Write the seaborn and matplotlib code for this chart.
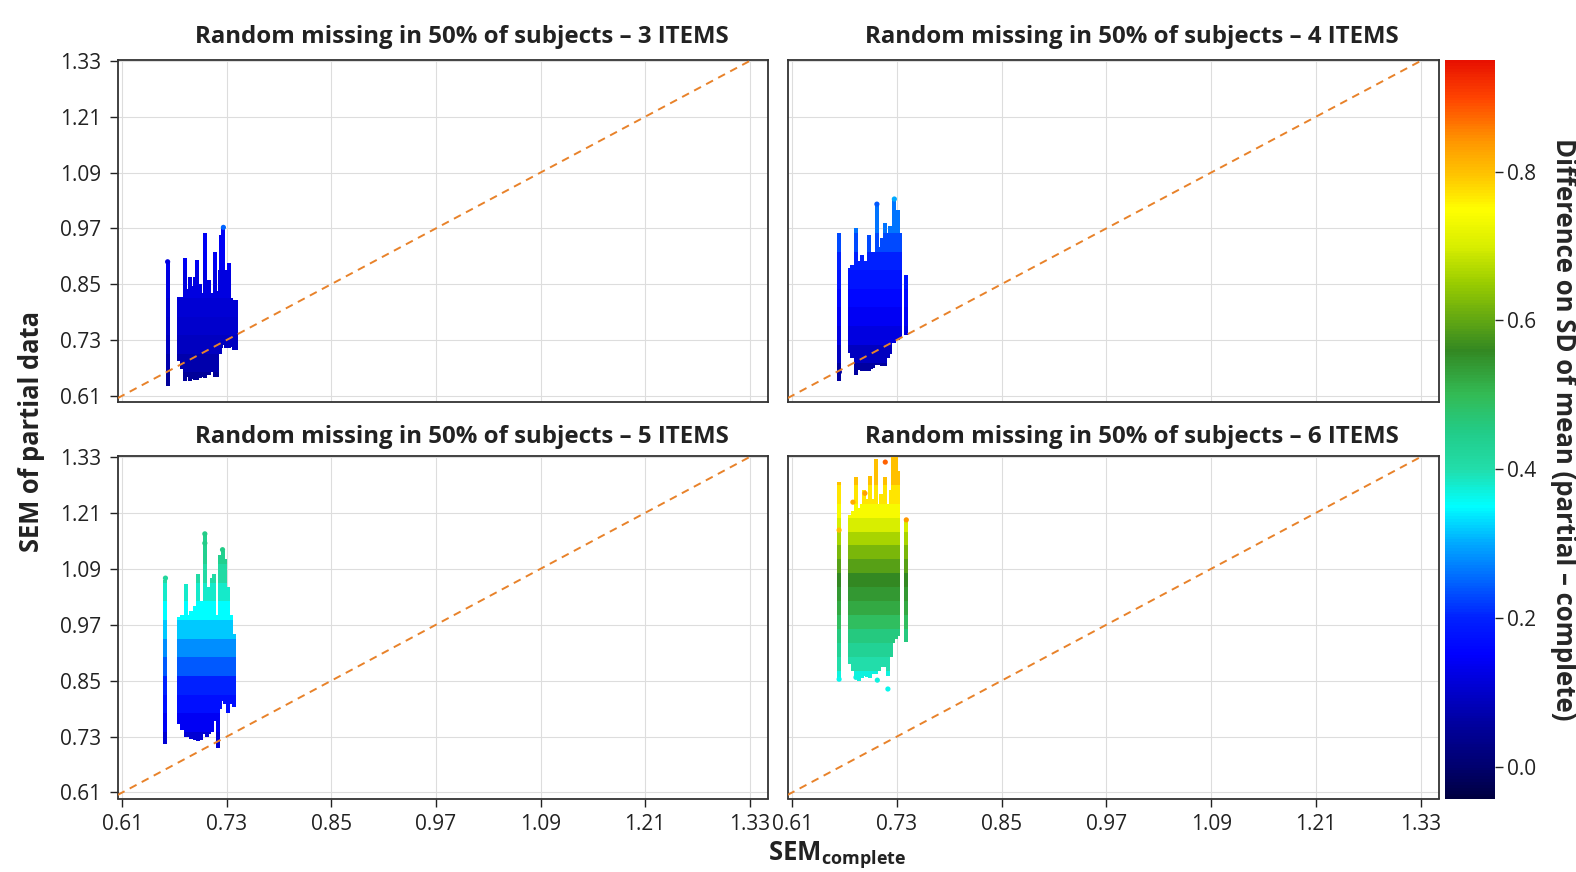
import matplotlib
matplotlib.use("Agg")
import matplotlib.pyplot as plt
import numpy as np
import pandas as pd
import seaborn as sns
from matplotlib.colors import LinearSegmentedColormap, Normalize
from matplotlib.cm import ScalarMappable

# ---- data ----
ticks = [0.61, 0.73, 0.85, 0.97, 1.09, 1.21, 1.33]
titles = ["Random missing in 50% of subjects \u2013 3 ITEMS",
          "Random missing in 50% of subjects \u2013 4 ITEMS",
          "Random missing in 50% of subjects \u2013 5 ITEMS",
          "Random missing in 50% of subjects \u2013 6 ITEMS"]

# 3 items: vertical strips (SEM complete, low / high SEM partial)
i3_x = [0.662, 0.675, 0.678, 0.682, 0.685, 0.688, 0.691, 0.693, 0.696, 0.699, 0.702, 0.705, 0.708,
        0.710, 0.713, 0.716, 0.719, 0.722, 0.723, 0.726, 0.729, 0.732, 0.735, 0.738, 0.741]
i3_lo = [0.630, 0.684, 0.668, 0.641, 0.650, 0.641, 0.645, 0.643, 0.644, 0.648, 0.650, 0.648, 0.655,
         0.655, 0.660, 0.651, 0.651, 0.700, 0.712, 0.719, 0.712, 0.712, 0.715, 0.709, 0.709]
i3_hi = [0.898, 0.823, 0.823, 0.906, 0.840, 0.866, 0.845, 0.866, 0.902, 0.850, 0.830, 0.959, 0.840,
         0.859, 0.830, 0.920, 0.835, 0.880, 0.956, 0.970, 0.880, 0.895, 0.820, 0.816, 0.816]
i3_edges = [0.60, 0.66, 0.70, 0.74, 0.78, 0.82, 0.88, 1.00]
i3_vals = [0.05, 0.07, 0.09, 0.10, 0.11, 0.12, 0.14]
i3_dot_x = [0.726, 0.662]
i3_dot_y = [0.972, 0.898]
i3_dot_c = [0.25, 0.12]

# 4 items
i4_x = [0.664, 0.676, 0.679, 0.683, 0.686, 0.690, 0.693, 0.6975, 0.700, 0.703, 0.707, 0.710, 0.713,
        0.7166, 0.720, 0.7223, 0.727, 0.731, 0.734, 0.7407]
i4_lo = [0.641, 0.702, 0.690, 0.655, 0.665, 0.662, 0.662, 0.662, 0.668, 0.670, 0.676, 0.676, 0.673,
         0.673, 0.690, 0.700, 0.723, 0.730, 0.735, 0.741]
i4_hi = [0.959, 0.884, 0.890, 0.970, 0.900, 0.913, 0.900, 0.956, 0.905, 0.920, 1.020, 0.930, 0.950,
         0.981, 0.960, 0.975, 1.031, 1.009, 0.960, 0.870]
i4_edges = [0.60, 0.68, 0.72, 0.76, 0.80, 0.84, 0.88, 0.92, 0.96, 1.05]
i4_vals = [0.06, 0.09, 0.12, 0.14, 0.16, 0.18, 0.20, 0.23, 0.26]
i4_dot_x = [0.664, 0.707, 0.727]
i4_dot_y = [0.661, 1.022, 1.033]
i4_dot_c = [0.06, 0.24, 0.30]

# 5 items
i5_x = [0.6595, 0.6745, 0.678, 0.683, 0.686, 0.689, 0.693, 0.6963, 0.700, 0.7047, 0.7075, 0.7097,
        0.713, 0.7155, 0.7193, 0.722, 0.725, 0.728, 0.7315, 0.735, 0.7384]
i5_lo = [0.714, 0.757, 0.745, 0.728, 0.730, 0.725, 0.722, 0.721, 0.722, 0.735, 0.730, 0.735,
         0.740, 0.764, 0.705, 0.790, 0.807, 0.800, 0.780, 0.800, 0.793]
i5_hi = [1.065, 0.986, 0.990, 1.058, 0.990, 1.000, 1.010, 1.079, 1.020, 1.162, 1.040, 1.050,
         1.070, 1.079, 0.990, 1.120, 1.129, 1.110, 1.050, 0.990, 0.950]
i5_edges = [0.68, 0.74, 0.78, 0.82, 0.86, 0.90, 0.94, 0.98, 1.02, 1.06, 1.10, 1.20]
i5_vals = [0.11, 0.14, 0.17, 0.20, 0.24, 0.28, 0.32, 0.35, 0.38, 0.41, 0.44]
i5_dot_x = [0.7047, 0.7047, 0.6595, 0.725]
i5_dot_y = [1.165, 1.145, 1.070, 1.131]
i5_dot_c = [0.45, 0.45, 0.42, 0.45]

# 6 items
i6_x = [0.6637, 0.6764, 0.680, 0.6833, 0.687, 0.690, 0.6925, 0.6955, 0.6986, 0.702, 0.7063, 0.709,
        0.712, 0.7166, 0.7196, 0.723, 0.7254, 0.7285, 0.731, 0.7407]
i6_lo = [0.853, 0.886, 0.870, 0.857, 0.850, 0.855, 0.860, 0.858, 0.855, 0.865, 0.864, 0.870,
         0.880, 0.880, 0.860, 0.900, 0.930, 0.940, 0.945, 0.932]
i6_hi = [1.276, 1.205, 1.215, 1.287, 1.220, 1.230, 1.260, 1.240, 1.290, 1.240, 1.326, 1.230,
         1.250, 1.287, 1.230, 1.260, 1.330, 1.330, 1.300, 1.194]
i6_edges = [0.80, 0.87, 0.90, 0.93, 0.96, 0.99, 1.02, 1.05, 1.08, 1.11, 1.14, 1.17, 1.20, 1.23,
            1.27, 1.34]
i6_vals = [0.37, 0.40, 0.43, 0.46, 0.49, 0.52, 0.54, 0.56, 0.59, 0.62, 0.66, 0.70, 0.74, 0.77, 0.80]
i6_dot_x = [0.6637, 0.683, 0.7075, 0.7196, 0.6795, 0.6933, 0.6637, 0.7407, 0.7166]
i6_dot_y = [0.853, 0.857, 0.851, 0.832, 1.233, 1.252, 1.173, 1.195, 1.319]
i6_dot_c = [0.36, 0.37, 0.37, 0.36, 0.82, 0.83, 0.80, 0.84, 0.88]

# colour scale (value -> colour)
cbar_stops = [-0.044, 0.0, 0.05, 0.10, 0.15, 0.20, 0.25, 0.30, 0.35, 0.40, 0.45, 0.50,
              0.56, 0.65, 0.70, 0.75, 0.79, 0.84, 0.90, 0.95]
cbar_colors = ["#000040", "#000070", "#000099", "#0000cc", "#0000ff", "#0022ff", "#0066ff",
               "#00aaff", "#00ffff", "#22ddaa", "#22cc88", "#33bb55", "#338822", "#99cc00",
               "#d8ee00", "#ffff00", "#ffcc00", "#ff9900", "#ff4400", "#e81100"]
vmin, vmax = cbar_stops[0], cbar_stops[-1]

sns.set_style("whitegrid", {"axes.edgecolor": "#333333", "grid.color": "#dddddd"})
plt.rcParams['font.family'] = ['Open Sans', 'DejaVu Sans']
plt.rcParams['mathtext.fontset'] = 'custom'
plt.rcParams['mathtext.rm'] = 'Open Sans'
plt.rcParams['mathtext.bf'] = 'Open Sans:bold'
plt.rcParams['text.color'] = '#222222'

cmap = LinearSegmentedColormap.from_list(
    "sd_diff", [((v - vmin) / (vmax - vmin), c) for v, c in zip(cbar_stops, cbar_colors)])
norm = Normalize(vmin=vmin, vmax=vmax)

panels = [
    (i3_x, i3_lo, i3_hi, i3_edges, i3_vals, i3_dot_x, i3_dot_y, i3_dot_c),
    (i4_x, i4_lo, i4_hi, i4_edges, i4_vals, i4_dot_x, i4_dot_y, i4_dot_c),
    (i5_x, i5_lo, i5_hi, i5_edges, i5_vals, i5_dot_x, i5_dot_y, i5_dot_c),
    (i6_x, i6_lo, i6_hi, i6_edges, i6_vals, i6_dot_x, i6_dot_y, i6_dot_c),
]

W, H = 1576, 872
fig = plt.figure(figsize=(W / 100, H / 100), dpi=100)
boxes = [(117.7, 60.5, 768, 401.7), (787.6, 60.5, 1439, 401.7),
         (117.7, 456.5, 768, 798.5), (787.6, 456.5, 1439, 798.5)]

for k, (box, data) in enumerate(zip(boxes, panels)):
    x0, y0, x1, y1 = box
    ax = fig.add_axes([x0 / W, 1 - y1 / H, (x1 - x0) / W, (y1 - y0) / H])
    xs, los, his, edges, vals, dx, dy, dc = data

    # split every strip into the colour bands
    rows = []
    for x, lo, hi in zip(xs, los, his):
        for j, v in enumerate(vals):
            a, b = max(lo, edges[j]), min(hi, edges[j + 1])
            if b > a:
                rows.append((x, a, b, v))
    seg = pd.DataFrame(rows, columns=["x", "lo", "hi", "c"])
    ax.vlines(seg["x"], seg["lo"], seg["hi"], colors=cmap(norm(seg["c"].to_numpy())),
              linewidth=2.7, antialiased=False, zorder=2)
    dots = pd.DataFrame({"x": dx, "y": dy, "c": dc})
    sns.scatterplot(data=dots, x="x", y="y", hue="c", palette=cmap, hue_norm=norm,
                    s=14, linewidth=0, legend=False, ax=ax, zorder=2)

    ax.axline((0.61, 0.61), slope=1, color="#e8822a", linestyle=(0, (4, 3)),
              linewidth=1.4, zorder=3)
    ax.set_xlim(0.6047, 1.351)
    ax.set_ylim(0.597, 1.331)
    ax.set_xticks(ticks)
    ax.set_yticks(ticks)
    ax.set_xticklabels([f"{t:.2f}" for t in ticks])
    ax.set_yticklabels([f"{t:.2f}" for t in ticks])
    ax.set_xlabel("")
    ax.set_ylabel("")
    for s in ax.spines.values():
        s.set_linewidth(1.3)
        s.set_color("#333333")
    ax.tick_params(axis="both", labelsize=15, colors="#222222", length=6, width=1,
                   pad=6)
    ax.tick_params(axis="x", bottom=(k >= 2), labelbottom=(k >= 2), pad=5)
    ax.tick_params(axis="y", left=(k % 2 == 0), labelleft=(k % 2 == 0))
    ax.text(0.529, 1.069 if k < 2 else 1.057, titles[k], transform=ax.transAxes,
            ha="center", va="center", fontsize=17.3, fontweight="bold")

cax = fig.add_axes([1445 / W, 1 - 799.3 / H, 50 / W, 739.3 / H])
cb = fig.colorbar(ScalarMappable(norm=norm, cmap=cmap), cax=cax,
                  ticks=[0.0, 0.2, 0.4, 0.6, 0.8])
cb.outline.set_visible(False)
cb.ax.set_yticklabels(["0.0", "0.2", "0.4", "0.6", "0.8"])
cb.ax.tick_params(labelsize=15, length=6, width=1, colors="#222222", right=True, pad=3)
cb.set_label("Difference on SD of mean (partial \u2013 complete)", rotation=270,
             fontsize=18.5, fontweight="bold", ha="center", va="center")
cb.ax.yaxis.set_label_coords((1563 - 1445) / 50, 0.5)

fig.text(32 / W, 1 - 431 / H, "SEM of partial data", rotation=90, ha="center",
         va="center", fontsize=18.4, fontweight="bold")
fig.text(837 / W, 1 - 860 / H, r"$\mathbf{SEM}_{\mathbf{complete}}$", ha="center",
         va="baseline", fontsize=18.5)

fig.savefig("out.png", dpi=100)
